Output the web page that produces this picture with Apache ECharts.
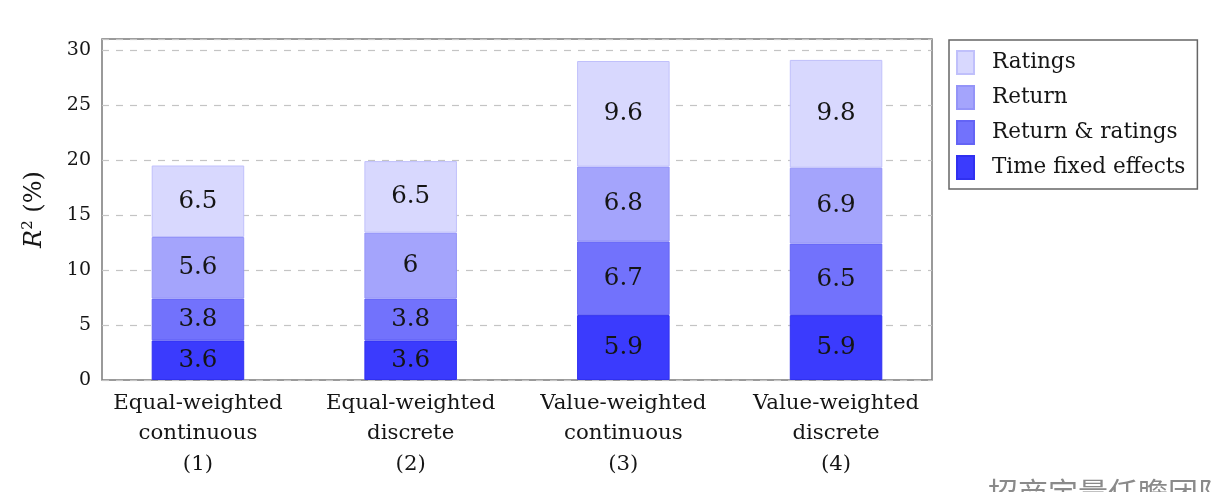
<!DOCTYPE html>
<html>
<head>
<meta charset="utf-8">
<script src="https://cdn.jsdelivr.net/npm/echarts@6/dist/echarts.min.js"></script>
<style>
html,body{margin:0;padding:0;background:#fff;}
#chart{width:1215px;height:492px;}
</style>
</head>
<body>
<div id="chart"></div>
<script>
const categories = ['Equal-weighted\ncontinuous\n(1)', 'Equal-weighted\ndiscrete\n(2)', 'Value-weighted\ncontinuous\n(3)', 'Value-weighted\ndiscrete\n(4)'];
const timeFixed = [3.6, 3.6, 5.9, 5.9];
const returnRatings = [3.8, 3.8, 6.7, 6.5];
const returnOnly = [5.6, 6, 6.8, 6.9];
const ratings = [6.5, 6.5, 9.6, 9.8];
const yTicks = [0, 5, 10, 15, 20, 25, 30];
const legendOrder = ['Ratings', 'Return', 'Return & ratings', 'Time fixed effects'];

const serif = '"DejaVu Serif", "Liberation Serif", serif';
const chart = echarts.init(document.getElementById('chart'));

function mk(name, data, fill, border) {
  return {
    name: name, type: 'bar', stack: 'total', data: data,
    xAxisIndex: 1, yAxisIndex: 1, barWidth: '43.5%',
    itemStyle: { color: fill, borderColor: border, borderWidth: 1 },
    label: { show: true, position: 'inside', color: '#151515', fontFamily: serif, fontSize: 24.5 },
    emphasis: { disabled: true }
  };
}

chart.setOption({
  animation: false,
  grid: [
    { left: 102, right: 283, top: 39, bottom: 112, show: true, borderColor: '#7a7a7a', borderWidth: 1.5, backgroundColor: 'transparent' },
    { left: 91.6, right: 272.6, top: 39, bottom: 112 }
  ],
  legend: {
    data: legendOrder.map(n => ({ name: n, icon: 'rect' })),
    orient: 'vertical', left: 949, top: 40,
    itemWidth: 17, itemHeight: 23, itemGap: 10,
    padding: [10, 12, 9, 7],
    borderColor: '#666', borderWidth: 1.5,
    textStyle: { fontFamily: serif, fontSize: 21.5, color: '#151515', lineHeight: 23, padding: [0, 0, 0, 13] },
    selectedMode: false
  },
  xAxis: [
    { gridIndex: 0, type: 'value', min: 0, max: 1, show: false },
    { gridIndex: 1, type: 'category', data: categories,
      axisLine: { show: false }, axisTick: { show: false },
      axisLabel: { fontFamily: serif, fontSize: 21.3, color: '#151515', lineHeight: 30.5, margin: 8, interval: 0 } }
  ],
  yAxis: [
    { gridIndex: 0, type: 'value', min: 0, max: 31, interval: 5,
      axisLine: { show: false }, axisTick: { show: false },
      axisLabel: { fontFamily: serif, fontSize: 19, color: '#151515', margin: 11, showMaxLabel: false,
        formatter: v => (yTicks.indexOf(v) >= 0 ? String(v) : '') },
      splitLine: { show: true, lineStyle: { color: '#c4c4c4', type: [7, 7], width: 1.2 } },
      name: '{i|R}{s|2} (%)', nameLocation: 'middle', nameRotate: 90, nameGap: 54,
      nameTextStyle: { fontFamily: serif, fontSize: 24, color: '#151515',
        rich: { i: { fontFamily: serif, fontStyle: 'italic', fontSize: 24, color: '#151515' },
                s: { fontFamily: serif, fontSize: 15, color: '#151515', verticalAlign: 'top', padding: [0, 0, 12, 0] } } } },
    { gridIndex: 1, type: 'value', min: 0, max: 31, show: false, splitLine: { show: false } }
  ],
  series: [
    mk('Time fixed effects', timeFixed, '#3b3bfd', '#3030f0'),
    mk('Return & ratings', returnRatings, '#7272fc', '#6464f5'),
    mk('Return', returnOnly, '#a4a4fc', '#9494f8'),
    mk('Ratings', ratings, '#d8d8fe', '#c0c0fb')
  ],
  graphic: [
    { type: 'text', left: 988, top: 478, silent: true,
      style: { text: '招商定量任瞻团队', font: '30px "Noto Sans CJK SC"', fill: '#8a8a8a' } }
  ]
});
</script>
</body>
</html>
